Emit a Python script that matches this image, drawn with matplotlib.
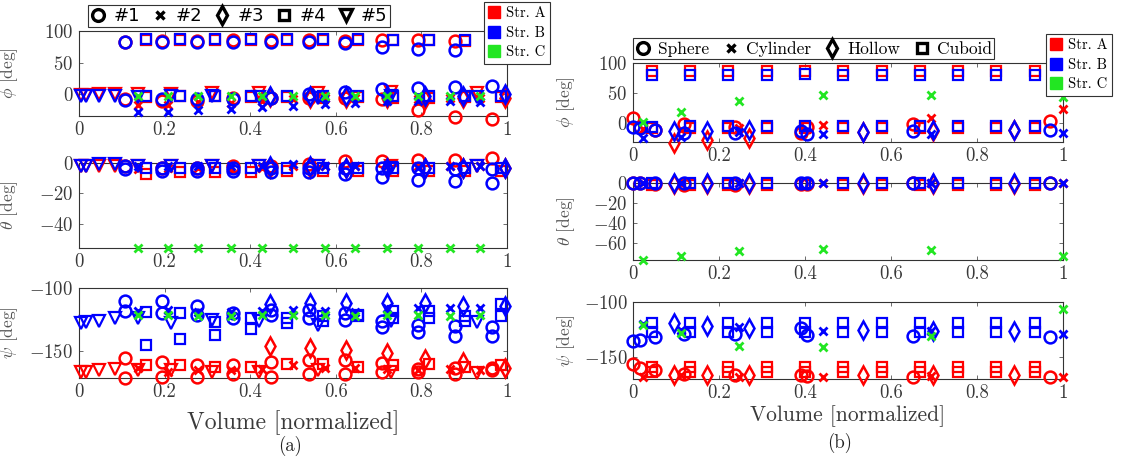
import matplotlib
matplotlib.use("Agg")
import matplotlib.pyplot as plt
from matplotlib.lines import Line2D

plt.rcParams['font.family'] = 'serif'
plt.rcParams['font.serif'] = ['cmr10']
plt.rcParams['mathtext.fontset'] = 'cm'
plt.rcParams['axes.formatter.use_mathtext'] = True

RED, BLUE, GREEN = '#ff0000', '#0000ff', '#22e622'
TXT = '#3a3a3a'

# ---------------- (a) subjects #1..#5 ----------------
a_x1 = [0.107, 0.193, 0.277, 0.361, 0.449, 0.538, 0.621, 0.708, 0.792, 0.879, 0.965]
a_x2 = [0.139, 0.209, 0.279, 0.355, 0.427, 0.50, 0.575, 0.645, 0.719, 0.793, 0.867, 0.937]
a_x3 = [0.446, 0.54, 0.625, 0.719, 0.808, 0.898, 0.995]
a_x4 = [0.157, 0.236, 0.319, 0.403, 0.487, 0.570, 0.652, 0.734, 0.818, 0.902, 0.985]
a_x5 = [0.004, 0.017, 0.046, 0.084, 0.139, 0.214, 0.31, 0.42, 0.559, 0.73, 0.929]

# phi
a_phi1_A = [83, 84, 84, 85, 85, 85, 84, 85, 85, 84, 85]
a_phi1_B = [82, 82, 82, 83, 83, 83, 81, 74, 72, 70, 69]
a_phi1_A2 = [-7, -10, -10, -5, -5, -6, -5, -8, -25, -35, -39]
a_phi1_B2 = [-9, -8, -8, -7, -5, 1, 4, 9, 10, 12, 14]
a_phi2_A = [-16, -16, -12, -14, -10, -8, -6, -6, -5, -8, -5, -5]
a_phi2_B = [-28, -27, -25, -23, -20, -18, -15, -14, -10, -10, -10, -12]
a_phi2_C = [-2, -2, -3, -2, -2, -3, -2, -2, -3, -2, -2, -3]
a_phi3_A = [-4, -5, -5, -6, -7, -6, -6]
a_phi3_B = [-2, -2, -2, -3, -3, -2, 0]
a_phi4_A = [85, 86, 86, 86, 86, 85, 85, 85, 85, 84, 84]
a_phi4_B = [88, 88, 88, 87, 87, 87, 87, 86, 86, 85, 85]
a_phi4_A2 = [-4, -3, -2, -4, -4, -5, -4, -5, -5, -4, -4]
a_phi4_B2 = [-3, -3, -3, -3, -3, -3, -3, -3, -3, -3, -3]
a_phi5_A = [-1, -1, 0, 1, 1, 1, 2, 2, 2, 4, 3]
a_phi5_B = [-3, -3, -3, -3, -4, -3, -3, -4, -5, -3, -4]

# theta
a_th1_A = [-2, -3, -3, -2, -2, -1, 1, 1, 2, 2, 3]
a_th1_B = [-4, -5, -5, -5, -6, -6, -7, -9, -11, -12, -13]
a_th1_B2 = [-2, -3, -3, -3, -3, -3, -3, -3, -3, -4, -4]
a_th2_A = [-4, -3, -3, -3, -3, -2, -2, -2, -2, -2, -2, -2]
a_th2_B = [-2, -2, -2, -2, -2, -1, -2, -2, -2, -3, -2, -2]
a_th2_C = [-56, -56, -56, -56, -56, -56, -56, -56, -56, -56, -56, -56]
a_th3_A = [-3, -3, -3, -3, -3, -3, -3]
a_th3_B = [-2, -2, -3, -3, -3, -3, -3]
a_th4_A = [-7, -6, -6, -6, -5, -5, -5, -5, -5, -5, -5]
a_th4_B = [-3, -3, -3, -3, -3, -3, -3, -3, -3, -3, -3]
a_th5_A = [-2, -2, -2, -2, -2, -2, -2, -2, -2, -2, -2]
a_th5_B = [-2, -2, -1, -1, -2, -2, -2, -2, -2, -3, -2]

# psi
a_psi1_A = [-155, -158, -161, -161, -158, -157, -157, -159, -164, -163, -163]
a_psi1_A2 = [-171, -170, -170, -168, -170, -168, -168, -166, -166, -168, -165]
a_psi1_B = [-110, -110, -114, -120, -117, -117, -120, -126, -129, -130, -131]
a_psi1_B2 = [-118, -120, -121, -124, -121, -124, -125, -131, -135, -138, -138]
a_psi2_A = [-163, -166, -165, -165, -164, -161, -163, -163, -164, -165, -164, -165]
a_psi2_B = [-118, -117, -119, -119, -118, -117, -118, -119, -116, -116, -116, -116]
a_psi2_C = [-121, -121, -122, -122, -121, -121, -121, -122, -121, -121, -122, -121]
a_psi3_A = [-146, -147, -149, -151, -156, -158, -163]
a_psi3_B = [-113, -112, -112, -112, -112, -114, -114]
a_psi4_A = [-161, -161, -162, -162, -160, -160, -162, -161, -160, -162, -161]
a_psi4_B = [-119, -120, -127, -124, -124, -122, -121, -118, -118, -122, -113]
a_psi4_B2 = [-145, -140, -137, -132, -128, -126, -122, -124, -124, -126, -122]
a_psi5_A = [-166, -166, -165, -164, -165, -165, -166, -166, -165, -166, -167]
a_psi5_B = [-128, -127, -126, -124, -124, -128, -125, -126, -129, -126, -127]

# ---------------- (b) objects ----------------
b_x_sph = [0.0, 0.016, 0.05, 0.119, 0.237, 0.39, 0.405, 0.65, 0.97]
b_x_cyl = [0.024, 0.112, 0.247, 0.442, 0.692, 1.0]
b_x_hol = [0.096, 0.172, 0.27, 0.534, 0.698, 0.885]
b_x_cub = [0.044, 0.133, 0.222, 0.311, 0.40, 0.489, 0.578, 0.667, 0.756, 0.845, 0.934]

b_phi_sph_A = [8, -7, -12, -1, -7, -17, -6, -2, 4]
b_phi_sph_B = [-6, -8, -11, -16, -17, -14, -19, -14, -12]
b_phi_cyl_A = [-10, -12, -8, -3, 8, 23]
b_phi_cyl_B = [-25, -23, -15, -19, -18, -16]
b_phi_cyl_C = [1, 18, 36, 46, 46, 43]
b_phi_hol_A = [-33, -29, -25, -15, -14, -12]
b_phi_hol_B = [-13, -13, -11, -15, -12, -12]
b_phi_cub_A = [86, 87, 86, 86, 86, 86, 86, 86, 86, 86, 86]
b_phi_cub_B = [80, 80, 80, 80, 81, 80, 80, 80, 80, 80, 80]
b_phi_cub_A2 = [-9, -8, -8, -9, -8, -8, -8, -8, -8, -8, -8]
b_phi_cub_B2 = [-6, -5, -5, -5, -5, -5, -5, -5, -5, -5, -5]

b_th_sph_A = [0, 0, -1, -2, -2, -1, -1, 0, 0]
b_th_sph_B = [0, 0, 0, 0, 0, 0, 0, 0, 0]
b_th_cyl_A = [0, -1, 0, 0, 0, 0]
b_th_cyl_B = [0, 0, 0, 0, 0, 0]
b_th_cyl_C = [-77, -73, -68, -66, -67, -73]
b_th_hol_A = [-1, -1, -1, -1, -1, -1]
b_th_hol_B = [0, 0, 0, 0, 0, 0]
b_th_cub_A = [-2, -2, -2, -2, -2, -2, -2, -2, -2, -2, -2]
b_th_cub_B = [0, 0, 0, 0, 0, 0, 0, 0, 0, 0, 0]

b_psi_sph_A = [-156, -160, -161, -165, -166, -166, -167, -168, -168]
b_psi_sph_B = [-135, -134, -132, -129, -129, -124, -130, -131, -132]
b_psi_cyl_A = [-168, -166, -168, -168, -167, -168]
b_psi_cyl_B = [-120, -125, -123, -126, -126, -129]
b_psi_cyl_C = [-121, -128, -140, -141, -131, -107]
b_psi_hol_A = [-166, -166, -166, -166, -166, -166]
b_psi_hol_B = [-119, -122, -124, -125, -126, -126]
b_psi_cub_A = [-159, -159, -159, -159, -159, -159, -159, -159, -159, -159, -159]
b_psi_cub_A2 = [-163, -163, -163, -163, -163, -163, -163, -163, -163, -163, -163]
b_psi_cub_B = [-119, -119, -119, -119, -119, -119, -119, -119, -119, -119, -119]
b_psi_cub_B2 = [-127, -127, -127, -127, -127, -127, -127, -127, -127, -127, -127]

x_ticks = [0, 0.2, 0.4, 0.6, 0.8, 1]
x_ticklabels = ['0', '0.2', '0.4', '0.6', '0.8', '1']

STYLE = {'o': (8.5, 1.8), 'x': (6, 2.0), 'd': (9, 1.8), 's': (7, 1.6), 'v': (9, 1.6)}


def dots(ax, x, y, marker, color):
    ms, mew = STYLE[marker]
    ax.plot(x, y, ls='none', marker=marker, ms=ms, mew=mew, mfc='none',
            mec=color, clip_on=False, zorder=3)


def style_axis(ax, ylim, yticks, ylabel, label_x):
    ax.set_xlim(0, 1)
    ax.set_ylim(*ylim)
    ax.set_xticks(x_ticks)
    ax.set_xticklabels(x_ticklabels)
    ax.set_yticks(yticks)
    ax.tick_params(direction='in', top=True, right=True, length=3, width=0.6,
                   labelsize=13.5, labelcolor=TXT, color='#555555', pad=4)
    for s in ax.spines.values():
        s.set_linewidth(0.8)
        s.set_color('#333333')
    ax.set_ylabel(ylabel, fontsize=12.5, color='#555555')
    ax.yaxis.set_label_coords(label_x, 0.5)


fig = plt.figure(figsize=(11.23, 4.63), dpi=100)

# ---- panel (a)
a_top = fig.add_axes([0.0703, 0.7495, 0.3811, 0.1836])
a_mid = fig.add_axes([0.0703, 0.4644, 0.3811, 0.1836])
a_bot = fig.add_axes([0.0703, 0.1836, 0.3811, 0.1944])

a_sets = [
    (a_top, [(a_x1, a_phi1_A, 'o', RED), (a_x1, a_phi1_A2, 'o', RED),
             (a_x2, a_phi2_A, 'x', RED), (a_x3, a_phi3_A, 'd', RED),
             (a_x4, a_phi4_A, 's', RED), (a_x4, a_phi4_A2, 's', RED),
             (a_x5, a_phi5_A, 'v', RED),
             (a_x1, a_phi1_B, 'o', BLUE), (a_x1, a_phi1_B2, 'o', BLUE),
             (a_x2, a_phi2_B, 'x', BLUE), (a_x3, a_phi3_B, 'd', BLUE),
             (a_x4, a_phi4_B, 's', BLUE), (a_x4, a_phi4_B2, 's', BLUE),
             (a_x5, a_phi5_B, 'v', BLUE), (a_x2, a_phi2_C, 'x', GREEN)]),
    (a_mid, [(a_x1, a_th1_A, 'o', RED), (a_x2, a_th2_A, 'x', RED),
             (a_x3, a_th3_A, 'd', RED), (a_x4, a_th4_A, 's', RED),
             (a_x5, a_th5_A, 'v', RED),
             (a_x1, a_th1_B, 'o', BLUE), (a_x1, a_th1_B2, 'o', BLUE),
             (a_x2, a_th2_B, 'x', BLUE), (a_x3, a_th3_B, 'd', BLUE),
             (a_x4, a_th4_B, 's', BLUE), (a_x5, a_th5_B, 'v', BLUE),
             (a_x2, a_th2_C, 'x', GREEN)]),
    (a_bot, [(a_x1, a_psi1_A, 'o', RED), (a_x1, a_psi1_A2, 'o', RED),
             (a_x2, a_psi2_A, 'x', RED), (a_x3, a_psi3_A, 'd', RED),
             (a_x4, a_psi4_A, 's', RED), (a_x5, a_psi5_A, 'v', RED),
             (a_x1, a_psi1_B, 'o', BLUE), (a_x1, a_psi1_B2, 'o', BLUE),
             (a_x2, a_psi2_B, 'x', BLUE), (a_x3, a_psi3_B, 'd', BLUE),
             (a_x4, a_psi4_B, 's', BLUE), (a_x4, a_psi4_B2, 's', BLUE),
             (a_x5, a_psi5_B, 'v', BLUE), (a_x2, a_psi2_C, 'x', GREEN)]),
]
for ax, series in a_sets:
    for x, y, m, c in series:
        dots(ax, x, y, m, c)

style_axis(a_top, (-34, 100), [0, 50, 100], r'$\phi$ [deg]', -0.138)
style_axis(a_mid, (-56, 0), [-40, -20, 0], r'$\theta$ [deg]', -0.138)
style_axis(a_bot, (-171, -100), [-150, -100], r'$\psi$ [deg]', -0.138)
a_bot.set_xlabel('Volume [normalized]', fontsize=17, color=TXT, labelpad=6)

# ---- panel (b)
b_top = fig.add_axes([0.5637, 0.694, 0.3829, 0.170])
b_mid = fig.add_axes([0.5637, 0.4384, 0.3829, 0.1657])
b_bot = fig.add_axes([0.5637, 0.1814, 0.3829, 0.167])

b_sets = [
    (b_top, [(b_x_sph, b_phi_sph_A, 'o', RED), (b_x_cyl, b_phi_cyl_A, 'x', RED),
             (b_x_hol, b_phi_hol_A, 'd', RED), (b_x_cub, b_phi_cub_A, 's', RED),
             (b_x_cub, b_phi_cub_A2, 's', RED),
             (b_x_sph, b_phi_sph_B, 'o', BLUE), (b_x_cyl, b_phi_cyl_B, 'x', BLUE),
             (b_x_hol, b_phi_hol_B, 'd', BLUE), (b_x_cub, b_phi_cub_B, 's', BLUE),
             (b_x_cub, b_phi_cub_B2, 's', BLUE), (b_x_cyl, b_phi_cyl_C, 'x', GREEN)]),
    (b_mid, [(b_x_sph, b_th_sph_A, 'o', RED), (b_x_cyl, b_th_cyl_A, 'x', RED),
             (b_x_hol, b_th_hol_A, 'd', RED), (b_x_cub, b_th_cub_A, 's', RED),
             (b_x_sph, b_th_sph_B, 'o', BLUE), (b_x_cyl, b_th_cyl_B, 'x', BLUE),
             (b_x_hol, b_th_hol_B, 'd', BLUE), (b_x_cub, b_th_cub_B, 's', BLUE),
             (b_x_cyl, b_th_cyl_C, 'x', GREEN)]),
    (b_bot, [(b_x_sph, b_psi_sph_A, 'o', RED), (b_x_cyl, b_psi_cyl_A, 'x', RED),
             (b_x_hol, b_psi_hol_A, 'd', RED), (b_x_cub, b_psi_cub_A, 's', RED),
             (b_x_cub, b_psi_cub_A2, 's', RED),
             (b_x_sph, b_psi_sph_B, 'o', BLUE), (b_x_cyl, b_psi_cyl_B, 'x', BLUE),
             (b_x_hol, b_psi_hol_B, 'd', BLUE), (b_x_cub, b_psi_cub_B, 's', BLUE),
             (b_x_cub, b_psi_cub_B2, 's', BLUE), (b_x_cyl, b_psi_cyl_C, 'x', GREEN)]),
]
for ax, series in b_sets:
    for x, y, m, c in series:
        dots(ax, x, y, m, c)

style_axis(b_top, (-31, 100), [0, 50, 100], r'$\phi$ [deg]', -0.13)
style_axis(b_mid, (-77, 0), [-60, -40, -20, 0], r'$\theta$ [deg]', -0.13)
style_axis(b_bot, (-169.5, -100), [-150, -100], r'$\psi$ [deg]', -0.13)
b_bot.set_xlabel('Volume [normalized]', fontsize=15.5, color=TXT, labelpad=2)

# ---- legends
frame_kw = dict(fancybox=False, framealpha=1, edgecolor='#333333')


def marker_handles(markers):
    return [Line2D([], [], ls='none', marker=m, mfc='none', mec='k', ms=STYLE[m][0],
                   mew=2.4) for m in markers]


def color_handles():
    return [Line2D([], [], ls='none', marker='s', ms=9, mfc=c, mec=c) for c in (RED, BLUE, GREEN)]


leg = fig.legend(marker_handles(['o', 'x', 'd', 's', 'v']), ['#1', '#2', '#3', '#4', '#5'],
                 loc='center', bbox_to_anchor=(0.2128, 0.9654), ncol=5,
                 prop={'family': 'DejaVu Sans', 'size': 13}, handlelength=0.9,
                 handletextpad=0.4, columnspacing=0.65, borderpad=0.12, **frame_kw)
leg.get_frame().set_linewidth(0.8)
leg = fig.legend(color_handles(), ['Str. A', 'Str. B', 'Str. C'], loc='center',
                 bbox_to_anchor=(0.4604, 0.9286), prop={'size': 10.5}, handlelength=0.8,
                 handletextpad=0.4, labelspacing=0.4, borderpad=0.3, **frame_kw)
leg.get_frame().set_linewidth(0.8)
leg = fig.legend(marker_handles(['o', 'x', 'd', 's']), ['Sphere', 'Cylinder', 'Hollow', 'Cuboid'],
                 loc='center', bbox_to_anchor=(0.7244, 0.8946), ncol=4, prop={'size': 12.5},
                 handlelength=0.9, handletextpad=0.4, columnspacing=0.8, borderpad=0.15,
                 **frame_kw)
leg.get_frame().set_linewidth(0.8)
leg = fig.legend(color_handles(), ['Str. A', 'Str. B', 'Str. C'], loc='center',
                 bbox_to_anchor=(0.9608, 0.8596), prop={'size': 10.5}, handlelength=0.8,
                 handletextpad=0.4, labelspacing=0.4, borderpad=0.3, **frame_kw)
leg.get_frame().set_linewidth(0.8)

fig.text(0.258, 0.037, '(a)', ha='center', va='center', fontsize=13.5, color='#222222')
fig.text(0.748, 0.043, '(b)', ha='center', va='center', fontsize=13.5, color='#222222')

fig.savefig('out.png', dpi=100)
